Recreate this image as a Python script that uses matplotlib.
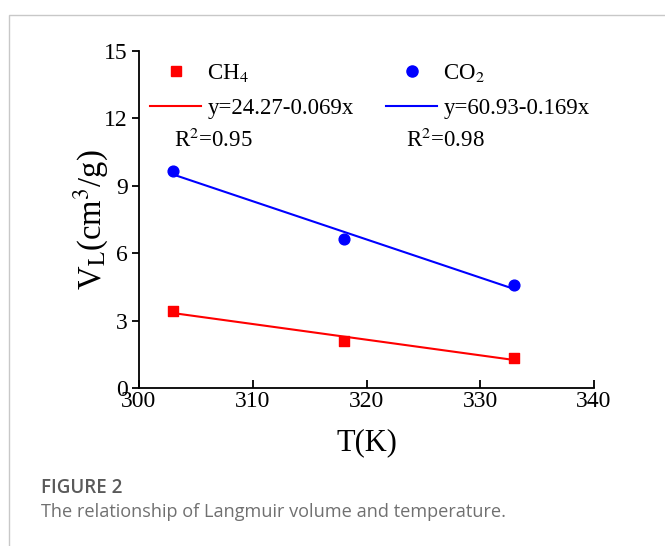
import numpy as np
import matplotlib
matplotlib.use("Agg")
import matplotlib.pyplot as plt
from matplotlib.lines import Line2D
from matplotlib.patches import Rectangle

# data
temps = [303, 318, 333]
ch4_vl = [3.43, 2.10, 1.34]
co2_vl = [9.67, 6.62, 4.57]
ch4_label = "y=24.27-0.069x"
co2_label = "y=60.93-0.169x"
ch4_r2 = "R$^2$=0.95"
co2_r2 = "R$^2$=0.98"
x_ticks = [300, 310, 320, 330, 340]
y_ticks = [0, 3, 6, 9, 12, 15]

plt.rcParams["font.family"] = "Liberation Serif"
plt.rcParams["mathtext.fontset"] = "stix"

W, H = 665, 546
fig = plt.figure(figsize=(W / 100, H / 100), dpi=100)

# light frame around the figure panel
fig.patches.append(Rectangle((9 / W, -0.1), 1.2, 1 - 15 / H + 0.1, transform=fig.transFigure,
                             fill=False, edgecolor="#c8c8c8", linewidth=1.0))

ax = fig.add_axes([139 / W, 1 - 388 / H, 455 / W, 337 / H])

ax.scatter(temps, ch4_vl, marker="s", s=50, color="red", zorder=3)
ax.scatter(temps, co2_vl, marker="o", s=60, color="blue", zorder=3)

t = np.array(temps)
k1, b1 = np.polyfit(t, ch4_vl, 1)
k2, b2 = np.polyfit(t, co2_vl, 1)
ax.plot(t, k1 * t + b1, color="red", lw=1.5)
ax.plot(t, k2 * t + b2, color="blue", lw=1.5)

ax.set_xlim(300, 340)
ax.set_ylim(0, 15)
ax.set_xticks(x_ticks)
ax.set_yticks(y_ticks)
ax.spines["top"].set_visible(False)
ax.spines["right"].set_visible(False)
for s in ("left", "bottom"):
    ax.spines[s].set_linewidth(1.3)
ax.tick_params(axis="x", direction="in", length=6, width=1.3, labelsize=17, pad=2)
ax.tick_params(axis="y", direction="out", length=5, width=1.3, labelsize=17, pad=3)

ax.set_xlabel("T(K)", fontsize=22, labelpad=12)
ax.set_ylabel("V$_\\mathrm{L}$(cm$^3$/g)", fontsize=23.5, labelpad=-5)

handles = [
    Line2D([], [], marker="s", ls="none", color="red", markersize=7),
    Line2D([], [], color="red", lw=1.5),
    Line2D([], [], marker="o", ls="none", color="blue", markersize=8),
    Line2D([], [], color="blue", lw=1.5),
]
labels = ["CH$_4$", ch4_label, "CO$_2$", co2_label]
ax.legend(handles, labels, ncol=2, frameon=False, fontsize=16.5,
          loc="upper left", bbox_to_anchor=(0.025, 0.967), borderaxespad=0, borderpad=0,
          handlelength=2.23, handletextpad=0.26, columnspacing=1.42, labelspacing=0.59)

ax.text(0.077, 0.736, ch4_r2, transform=ax.transAxes, fontsize=16.5, va="center")
ax.text(0.587, 0.736, co2_r2, transform=ax.transAxes, fontsize=16.5, va="center")

fig.text(41 / W, 1 - 488 / H, "FIGURE 2", family="Open Sans", fontsize=13.5,
         fontweight="semibold", color="#5a5a5a", va="center")
fig.text(41 / W, 1 - 512 / H, "The relationship of Langmuir volume and temperature.",
         family="Open Sans", fontsize=13.1, color="#707070", va="center")

fig.savefig("out.png", dpi=100)
